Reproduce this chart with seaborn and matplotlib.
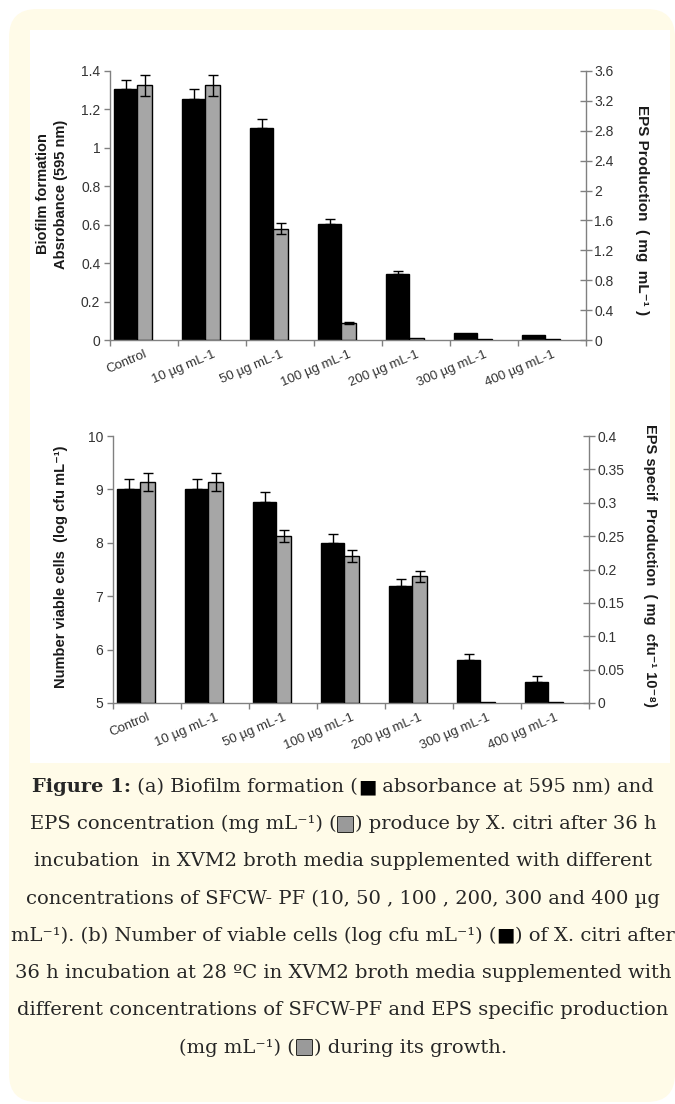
import matplotlib.patheffects as pe
import matplotlib.pyplot as plt
import numpy as np
import pandas as pd
import seaborn as sns
from matplotlib.patches import FancyBboxPatch, Rectangle
from matplotlib.ticker import FuncFormatter, MultipleLocator
from matplotlib.transforms import IdentityTransform

# values
categories = ["Control", "10 µg mL-1", "50 µg mL-1", "100 µg mL-1",
              "200 µg mL-1", "300 µg mL-1", "400 µg mL-1"]

# (a) biofilm formation (absorbance, left) and EPS production (mg mL-1, right)
biofilm = [1.305, 1.252, 1.105, 0.604, 0.344, 0.035, 0.026]
biofilm_err = [0.048, 0.053, 0.043, 0.024, 0.016, 0.0, 0.0]
eps = [3.41, 3.41, 1.49, 0.223, 0.025, 0.012, 0.012]
eps_err = [0.14, 0.14, 0.07, 0.012, 0.0, 0.0, 0.0]

# (b) viable cells (log cfu mL-1, left) and EPS specific production (right)
viable = [9.0, 9.0, 8.77, 8.0, 7.2, 5.8, 5.4]
viable_err = [0.2, 0.2, 0.19, 0.17, 0.12, 0.12, 0.1]
eps_spec = [0.331, 0.331, 0.25, 0.22, 0.19, 0.001, 0.001]
eps_spec_err = [0.0135, 0.0135, 0.009, 0.009, 0.008, 0.0, 0.0]

caption = [
    [("Figure 1:", "bold"), (" (a) Biofilm formation (", "n"), ("■", "black"),
     (" absorbance at 595 nm) and", "n")],
    [("EPS concentration (mg mL⁻¹) (", "n"), ("■", "gray"),
     (") produce by X. citri after 36 h", "n")],
    [("incubation  in XVM2 broth media supplemented with different", "n")],
    [("concentrations of SFCW- PF (10, 50 , 100 , 200, 300 and 400 µg", "n")],
    [("mL⁻¹). (b) Number of viable cells (log cfu mL⁻¹) (", "n"), ("■", "black"),
     (") of X. citri after", "n")],
    [("36 h incubation at 28 ºC in XVM2 broth media supplemented with", "n")],
    [("different concentrations of SFCW-PF and EPS specific production", "n")],
    [("(mg mL⁻¹) (", "n"), ("■", "gray"), (") during its growth.", "n")],
]

W, H = 675, 1104
cream = "#fffbe8"
axis_col = "#808080"
tick_col = "#333333"

sns.set_theme(style="white")
plt.rcParams["font.family"] = ["Liberation Sans", "DejaVu Sans"]

fig = plt.figure(figsize=(W / 100, H / 100), dpi=100)
px = IdentityTransform()

# cream rounded frame and white plotting panel
fig.add_artist(FancyBboxPatch((9, 2), 666, H - 11,
                              boxstyle="round,pad=0,rounding_size=28",
                              transform=px, fc=cream, ec="none", zorder=-10))
fig.add_artist(Rectangle((30, H - 763), 640, 733, transform=px,
                         fc="white", ec="none", zorder=-9))

fmt = FuncFormatter(lambda v, p: f"{round(v, 3):g}")


def draw_panel(rect, left_vals, left_err, right_vals, right_err,
               left_lim, left_step, right_lim, right_step):
    ax = fig.add_axes(rect)
    ax.set_facecolor("none")
    pos = np.arange(len(categories))
    df = pd.DataFrame({"xb": pos + 0.23, "xg": pos + 0.51,
                       "left": left_vals, "right": right_vals})

    sns.barplot(data=df, x="xb", y="left", native_scale=True, width=0.34,
                color="black", edgecolor="black", linewidth=1, saturation=1,
                errorbar=None, ax=ax)
    ax2 = ax.twinx()
    sns.barplot(data=df, x="xg", y="right", native_scale=True, width=0.22,
                color="#a6a6a6", edgecolor="black", linewidth=1, saturation=1,
                errorbar=None, ax=ax2)

    le = np.array(left_err)
    m = le > 0
    ax.errorbar(df["xb"][m], np.array(left_vals)[m], yerr=[np.zeros(m.sum()), le[m]],
                fmt="none", ecolor="black", elinewidth=1, capsize=3.5, capthick=1)
    re = np.array(right_err)
    m = re > 0
    ax2.errorbar(df["xg"][m], np.array(right_vals)[m], yerr=re[m],
                 fmt="none", ecolor="black", elinewidth=1, capsize=3.5, capthick=1)

    ax.set_xlim(0, len(categories))
    ax.set_ylim(*left_lim)
    ax2.set_ylim(*right_lim)
    ax.yaxis.set_major_locator(MultipleLocator(left_step))
    ax2.yaxis.set_major_locator(MultipleLocator(right_step))
    ax.yaxis.set_major_formatter(fmt)
    ax2.yaxis.set_major_formatter(fmt)
    for a in (ax, ax2):
        a.set_xlabel("")
        a.set_ylabel("")
        for s in a.spines.values():
            s.set_color(axis_col)
            s.set_linewidth(1)
    ax.spines["top"].set_visible(False)
    ax.spines["right"].set_visible(False)
    for s in ("top", "left", "bottom"):
        ax2.spines[s].set_visible(False)

    ax.set_xticks(np.arange(len(categories) + 1))
    ax.set_xticklabels([])
    ax.set_xticks(pos + 0.5, minor=True)
    ax.set_xticklabels(categories, minor=True, rotation=23, ha="right",
                       va="top", rotation_mode="anchor", fontsize=9.5, color=tick_col)
    ax.tick_params(axis="x", which="major", bottom=True, direction="out",
                   length=4, width=1, color=axis_col)
    ax.tick_params(axis="x", which="minor", bottom=True, length=0, pad=6)
    ax.tick_params(axis="y", left=True, direction="out", length=4, width=1,
                   color=axis_col, labelsize=10, labelcolor=tick_col, pad=3)
    ax2.tick_params(axis="y", right=True, direction="inout", length=8, width=1,
                    color=axis_col, labelsize=10, labelcolor=tick_col, pad=2)
    return ax, ax2


draw_panel([110 / W, (H - 340) / H, 476 / W, 269 / H],
           biofilm, biofilm_err, eps, eps_err, (0, 1.4), 0.2, (0, 3.6), 0.4)
draw_panel([113 / W, (H - 703) / H, 476 / W, 267 / H],
           viable, viable_err, eps_spec, eps_spec_err, (5, 10), 1, (0, 0.4), 0.05)

lab = dict(transform=px, ha="center", va="center", fontweight="bold",
           fontsize=10.5, color="#1a1a1a")
fig.text(52, H - 194, "Biofilm formation\nAbsrobance (595 nm)", rotation=90,
         linespacing=1.35, **lab)
fig.text(642, H - 210, "EPS Production  ( mg  mL⁻¹ )", rotation=-90,
         **{**lab, "fontsize": 11})
fig.text(61, H - 567, "Number viable cells  (log cfu mL⁻¹)", rotation=90, **lab)
fig.text(650, H - 565, "EPS specif  Production  ( mg  cfu⁻¹ 10⁻⁸)", rotation=-90, **lab)

# caption, built piece by piece so the small squares can take their own colours
renderer = fig.canvas.get_renderer()
cap_font = ["DejaVu Serif", "DejaVu Sans"]
for i, parts in enumerate(caption):
    y = H - (787 + 37.2 * i)
    pieces = []
    for s, kind in parts:
        kw = dict(transform=px, ha="left", va="center", fontsize=14,
                  family=cap_font, color="#262626")
        if kind == "bold":
            kw["fontweight"] = "bold"
        elif kind == "black":
            kw["color"] = "black"
        elif kind == "gray":
            kw["color"] = "#9a9a9a"
            kw["path_effects"] = [pe.withStroke(linewidth=1.2, foreground="black")]
        pieces.append(fig.text(0, y, s, **kw))
    widths = [t.get_window_extent(renderer).width for t in pieces]
    x = 343 - sum(widths) / 2
    for t, w in zip(pieces, widths):
        t.set_position((x, y))
        x += w

fig.savefig("out.png", dpi=100)
